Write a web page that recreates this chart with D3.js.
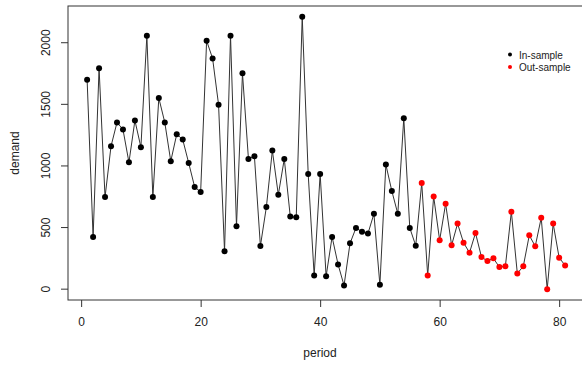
<!DOCTYPE html>
<html>
<head>
<meta charset="utf-8">
<script src="https://cdn.jsdelivr.net/npm/d3@7"></script>
<style>
  body { margin: 0; background: #fff; }
  svg { display: block; font-family: "Liberation Sans", Arial, sans-serif; }
</style>
</head>
<body>
<div id="chart"></div>
<script>
// in-sample demand, periods 1..56
const inSample = [1700, 424, 1793, 747, 1160, 1353, 1296, 1029, 1369, 1152,
  2057, 747, 1551, 1353, 1038, 1258, 1214, 1024, 829, 788,
  2016, 1872, 1497, 307, 2057, 511, 1752, 1057, 1078, 350,
  666, 1125, 766, 1057, 589, 584, 2211, 935, 111, 935,
  105, 424, 201, 30, 372, 497, 465, 451, 611, 35,
  1011, 796, 611, 1388, 497, 353];
// out-of-sample demand, periods 57..81
const outSample = [861, 111, 752, 397, 693, 356, 532, 377, 296, 456,
  261, 228, 250, 179, 185, 628, 128, 185, 437, 348,
  579, 0, 532, 255, 193];
const xTicks = [0, 20, 40, 60, 80];
const yTicks = [0, 500, 1000, 1500, 2000];
const legendLabels = ["In-sample", "Out-sample"];
const colors = ["#000000", "#ff0000"];

const W = 582, H = 367;
const mLeft = 68, mTop = 6, mBottom = 300;

const all = inSample.concat(outSample).map((v, i) => ({
  period: i + 1, demand: v, group: i < inSample.length ? 0 : 1
}));

const x = d3.scaleLinear().domain([-2.2, 84.2]).range([mLeft, mLeft + 86.4 * 5.975]);
const y = d3.scaleLinear().domain([-88, 2298]).range([mBottom, mTop]);

const svg = d3.select("#chart").append("svg")
  .attr("width", W).attr("height", H);

// box
svg.append("rect")
  .attr("x", mLeft).attr("y", mTop)
  .attr("width", x.range()[1] - mLeft).attr("height", mBottom - mTop)
  .attr("fill", "none").attr("stroke", "#333").attr("stroke-width", 1);

// axes
const xAxis = svg.append("g")
  .attr("transform", `translate(0,${mBottom})`)
  .call(d3.axisBottom(x).tickValues(xTicks).tickSize(7).tickPadding(10).tickFormat(d3.format("d")));
xAxis.select(".domain").remove();

const yAxis = svg.append("g")
  .attr("transform", `translate(${mLeft},0)`)
  .call(d3.axisLeft(y).tickValues(yTicks).tickSize(7).tickFormat(d3.format("d")));
yAxis.select(".domain").remove();
yAxis.selectAll(".tick").attr("transform", null);
yAxis.selectAll(".tick line").attr("y1", d => y(d)).attr("y2", d => y(d));
yAxis.selectAll(".tick text")
  .attr("transform", d => `translate(-22, ${y(d)}) rotate(-90)`)
  .attr("x", 0).attr("y", 0).attr("dy", "0.35em")
  .style("text-anchor", "middle");

svg.selectAll(".tick line").attr("stroke", "#333");
svg.selectAll(".tick text").attr("fill", "#222").style("font-size", "12px");

// axis titles
svg.append("text")
  .attr("x", 320).attr("y", 357)
  .style("text-anchor", "middle").style("font-size", "12px").attr("fill", "#222")
  .text("period");

svg.append("text")
  .attr("transform", `translate(19, ${(mTop + mBottom) / 2}) rotate(-90)`)
  .style("text-anchor", "middle").style("font-size", "12px").attr("fill", "#222")
  .text("demand");

// line
const line = d3.line().x(d => x(d.period)).y(d => y(d.demand));
svg.append("path")
  .datum(all)
  .attr("d", line)
  .attr("fill", "none").attr("stroke", "#333").attr("stroke-width", 1);

// points
svg.selectAll(".dot")
  .data(all)
  .enter()
  .append("circle")
  .attr("class", "dot")
  .attr("r", 3)
  .attr("cx", d => x(d.period))
  .attr("cy", d => y(d.demand))
  .attr("fill", d => colors[d.group]);

// legend
const legend = svg.append("g").attr("transform", "translate(510,55)");
legendLabels.forEach((lab, i) => {
  legend.append("circle")
    .attr("cx", 0).attr("cy", i * 12.5 - 0.5).attr("r", 2)
    .attr("fill", colors[i]);
  legend.append("text")
    .attr("x", 9).attr("y", i * 12.5).attr("dy", "0.35em")
    .style("font-size", "10px").attr("fill", "#222")
    .text(lab);
});
</script>
</body>
</html>
